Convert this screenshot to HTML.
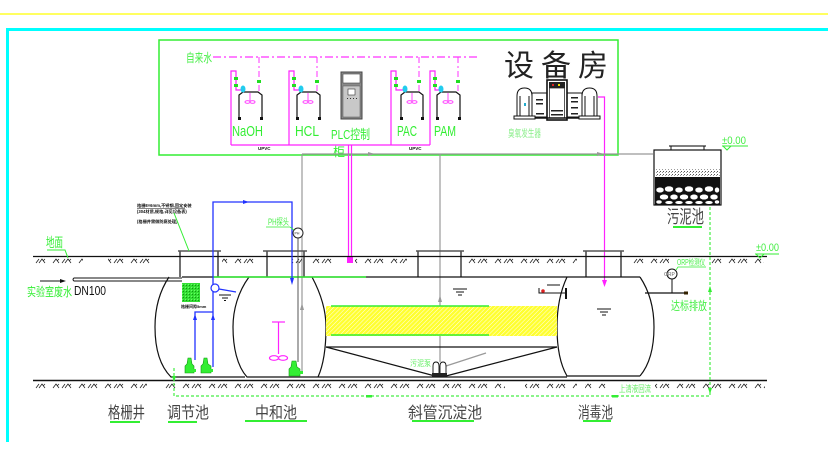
<!DOCTYPE html>
<html><head><meta charset="utf-8">
<style>
html,body{margin:0;padding:0;background:#fff;}
svg{display:block;}
text{font-family:"Liberation Sans","Noto Sans CJK SC",sans-serif;}
</style></head><body>
<svg width="828" height="473" viewBox="0 0 828 473" xmlns="http://www.w3.org/2000/svg">
<defs>
<pattern id="h1" x="0" y="257" width="26" height="8" patternUnits="userSpaceOnUse">
<path d="M1,6 L4,2 L7,6 M5,4 L7,2 M10,6 L13,2 M13,6 L16,2 L19,6 M17,4 L19,2" stroke="#222" stroke-width="0.8" fill="none"/>
</pattern>
<pattern id="h2" x="0" y="382" width="26" height="8" patternUnits="userSpaceOnUse">
<path d="M1,6 L4,2 L7,6 M5,4 L7,2 M10,6 L13,2 M13,6 L16,2 L19,6 M17,4 L19,2" stroke="#222" stroke-width="0.8" fill="none"/>
</pattern>
<pattern id="yh" width="3" height="3" patternUnits="userSpaceOnUse" patternTransform="rotate(45)">
<rect width="3" height="3" fill="#ffff30"/><line x1="0" y1="0" x2="0" y2="3" stroke="#fff" stroke-width="0.9"/>
</pattern>
<pattern id="gh" width="3" height="3" patternUnits="userSpaceOnUse">
<rect width="3" height="3" fill="#33dd33"/><rect x="0" y="0" width="1" height="1" fill="#119911"/><rect x="2" y="2" width="1" height="1" fill="#66ff66"/>
</pattern>
<pattern id="dots" width="3" height="3" patternUnits="userSpaceOnUse">
<rect width="3" height="3" fill="#fff"/><rect x="0" y="0" width="1" height="1" fill="#555"/><rect x="2" y="1" width="1" height="1" fill="#999"/>
</pattern>
</defs>

<!-- frame lines -->
<line x1="0" y1="14" x2="828" y2="14" stroke="#ffff00" stroke-width="1.3"/>
<line x1="6" y1="29.5" x2="828" y2="29.5" stroke="#00ffff" stroke-width="3"/>
<line x1="7.5" y1="29" x2="7.5" y2="442" stroke="#00ffff" stroke-width="3"/>

<!-- equipment room box -->
<rect x="159" y="40" width="459" height="115" fill="none" stroke="#33ee33" stroke-width="1.5"/>

<!-- tap water dash-dot line -->
<text x="186" y="62" font-size="12" fill="#44ee44" textLength="26" lengthAdjust="spacingAndGlyphs">自来水</text>
<line x1="213" y1="57" x2="477" y2="57" stroke="#ff33ff" stroke-width="1.2" stroke-dasharray="8,3,2,3"/>
<g stroke="#ff33ff" stroke-width="1" stroke-dasharray="6,3,2,3" fill="none">
<line x1="259" y1="57" x2="259" y2="118"/>
<line x1="317" y1="57" x2="317" y2="92"/>
<line x1="419" y1="57" x2="419" y2="118"/>
<line x1="458" y1="57" x2="458" y2="92"/>
</g>

<!-- magenta solid dosing lines -->
<g stroke="#ff22ff" stroke-width="1.2" fill="none">
<path d="M231,145 L231,71 L236,71 L236,90 L241,90"/>
<path d="M289,145 L289,71 L294,71 L294,90 L299,90"/>
<path d="M391,145 L391,71 L396,71 L396,90 L403,90"/>
<path d="M430,145 L430,71 L435,71 L435,90 L439,90"/>
<line x1="231" y1="145" x2="430" y2="145"/>
<line x1="348.5" y1="145" x2="348.5" y2="260"/>
<line x1="351.5" y1="145" x2="351.5" y2="260"/>
<path d="M598,97 L604.5,97 L604.5,282"/>
</g>
<rect x="347" y="257" width="6" height="6" fill="#ff22ff"/>
<polygon points="602,280 607,280 604.5,287" fill="#ff22ff"/>

<!-- green valve markers -->
<g fill="#22dd22">
<rect x="234" y="77" width="4" height="3"/><rect x="234" y="84" width="4" height="3"/><rect x="257" y="80" width="4" height="3"/>
<rect x="292" y="77" width="4" height="3"/><rect x="292" y="84" width="4" height="3"/><rect x="315" y="80" width="4" height="3"/>
<rect x="394" y="77" width="4" height="3"/><rect x="394" y="84" width="4" height="3"/><rect x="417" y="80" width="4" height="3"/>
<rect x="433" y="77" width="4" height="3"/><rect x="433" y="84" width="4" height="3"/><rect x="456" y="80" width="4" height="3"/>
</g>

<!-- chemical tanks -->
<g id="tanks" stroke="#111" stroke-width="1.2" fill="#fff">
<path d="M239,119 L239,95 L243,92 L258,92 L262,95 L262,119"/>
<path d="M297,119 L297,95 L301,92 L316,92 L320,95 L320,119"/>
<path d="M401,119 L401,95 L405,92 L419,92 L423,95 L423,119"/>
<path d="M437,119 L437,95 L441,92 L456,92 L460,95 L460,119"/>
</g>
<g fill="#111">
<rect x="238" y="117" width="3" height="3"/><rect x="260" y="117" width="3" height="3"/>
<rect x="296" y="117" width="3" height="3"/><rect x="318" y="117" width="3" height="3"/>
<rect x="400" y="117" width="3" height="3"/><rect x="421" y="117" width="3" height="3"/>
<rect x="436" y="117" width="3" height="3"/><rect x="458" y="117" width="3" height="3"/>
</g>
<g fill="#22ccee">
<ellipse cx="243" cy="89" rx="2.5" ry="3.5"/><ellipse cx="301" cy="89" rx="2.5" ry="3.5"/>
<ellipse cx="405" cy="89" rx="2.5" ry="3.5"/><ellipse cx="441" cy="89" rx="2.5" ry="3.5"/>
</g>
<g stroke="#ff33ff" stroke-width="0.9" fill="none">
<line x1="250" y1="93" x2="250" y2="101"/><ellipse cx="247.5" cy="102" rx="2.5" ry="1.3"/><ellipse cx="252.5" cy="102" rx="2.5" ry="1.3"/>
<line x1="308" y1="93" x2="308" y2="101"/><ellipse cx="305.5" cy="102" rx="2.5" ry="1.3"/><ellipse cx="310.5" cy="102" rx="2.5" ry="1.3"/>
<line x1="412" y1="93" x2="412" y2="101"/><ellipse cx="409.5" cy="102" rx="2.5" ry="1.3"/><ellipse cx="414.5" cy="102" rx="2.5" ry="1.3"/>
<line x1="448" y1="93" x2="448" y2="101"/><ellipse cx="445.5" cy="102" rx="2.5" ry="1.3"/><ellipse cx="450.5" cy="102" rx="2.5" ry="1.3"/>
</g>

<!-- PLC cabinet -->
<rect x="341" y="72" width="21" height="47" fill="#8a8a8a" stroke="#444" stroke-width="1"/>
<rect x="343" y="74" width="17" height="9" fill="#fff" stroke="#444" stroke-width="0.6"/>
<rect x="343" y="86" width="17" height="31" fill="#c8c8c8" stroke="#555" stroke-width="0.5"/>
<rect x="348" y="89" width="7" height="6" fill="#fff" stroke="#333" stroke-width="0.6"/>
<g fill="#333"><rect x="347" y="98" width="1" height="1"/><rect x="350" y="98" width="1" height="1"/><rect x="353" y="98" width="1" height="1"/><rect x="356" y="98" width="1" height="1"/></g>

<!-- chem labels -->
<g fill="#33ee33">
<text x="232" y="136" font-size="15" textLength="31" lengthAdjust="spacingAndGlyphs">NaOH</text>
<text x="295" y="136" font-size="15" textLength="24" lengthAdjust="spacingAndGlyphs">HCL</text>
<text x="331" y="139" font-size="13" textLength="39" lengthAdjust="spacingAndGlyphs">PLC控制</text>
<text x="333" y="156" font-size="12">柜</text>
<text x="397" y="136" font-size="15" textLength="20" lengthAdjust="spacingAndGlyphs">PAC</text>
<text x="434" y="136" font-size="15" textLength="22" lengthAdjust="spacingAndGlyphs">PAM</text>
</g>
<text x="258" y="150" font-size="4.5" font-weight="bold" fill="#111">UPVC</text>
<text x="409" y="150" font-size="4.5" font-weight="bold" fill="#111">UPVC</text>

<!-- 设备房 -->
<g fill="#222" font-size="30">
<text x="504" y="76">设</text>
<text x="541" y="76">备</text>
<text x="578" y="76">房</text>
</g>

<!-- ozone generator -->
<g stroke="#111" stroke-width="1" fill="#fff">
<path d="M517,117 L517,96 Q517,88 524.5,88 Q532,88 532,96 L532,117 Z"/>
<rect x="532" y="93" width="15" height="24"/>
<rect x="567" y="93" width="15" height="24"/>
<path d="M582,117 L582,96 Q582,88 589.5,88 Q597,88 597,96 L597,117 Z"/>
<rect x="547" y="80" width="20" height="40" stroke-width="1.6"/>
<rect x="549.5" y="88" width="15" height="30" stroke-width="0.7"/>
<line x1="520" y1="96" x2="520" y2="116"/><line x1="529" y1="96" x2="529" y2="116"/>
<line x1="585" y1="96" x2="585" y2="116"/><line x1="594" y1="96" x2="594" y2="116"/>
<line x1="514" y1="118" x2="600" y2="118" stroke-width="1.5"/>
<rect x="514" y="116" width="21" height="3"/><rect x="579" y="116" width="21" height="3"/>
</g>
<rect x="549" y="82" width="16" height="6" fill="#222"/>
<rect x="552" y="84" width="2" height="2" fill="#dd2222"/><rect x="558" y="84" width="2" height="2" fill="#eedd00"/>
<rect x="524" y="103" width="2" height="3" fill="#22aacc"/>
<g fill="#222">
<rect x="536" y="99" width="7" height="1.5"/><rect x="536" y="103" width="7" height="1.5"/><rect x="536" y="113" width="8" height="1.5"/>
<rect x="571" y="97" width="7" height="1.5"/><rect x="571" y="101" width="7" height="1.5"/><rect x="571" y="107" width="7" height="1.5"/><rect x="571" y="113" width="7" height="1.5"/>
<rect x="551" y="110" width="12" height="1.5"/><rect x="551" y="114" width="12" height="1.5"/>
</g>
<text x="508" y="137" font-size="10" fill="#88ee88" textLength="33" lengthAdjust="spacingAndGlyphs">臭氧发生器</text>

<!-- grey lines -->
<g stroke="#999" stroke-width="1.2" fill="none">
<line x1="302" y1="154" x2="653" y2="154"/>
<line x1="302" y1="154" x2="302" y2="372"/>
<line x1="440" y1="154" x2="440" y2="362"/>
<line x1="446" y1="366" x2="486" y2="353"/>
</g>
<polygon points="368,152 375,154 368,156" fill="#999"/>
<polygon points="597,152 604,154 597,156" fill="#999"/>
<polygon points="300,310 302,303 304,310" fill="#999"/>
<polygon points="438,302 440,295 442,302" fill="#999"/>

<!-- ground lines and hatches -->
<line x1="33" y1="256.5" x2="767" y2="256.5" stroke="#111" stroke-width="1.3"/>
<line x1="33" y1="380.5" x2="767" y2="380.5" stroke="#111" stroke-width="1.5"/>
<g fill="url(#h1)">
<rect x="35" y="257" width="48" height="8"/><rect x="108" y="257" width="44" height="8"/>
<rect x="222" y="257" width="36" height="8"/><rect x="292" y="257" width="10" height="8"/>
<rect x="309" y="257" width="26" height="8"/><rect x="355" y="257" width="52" height="8"/>
<rect x="467" y="257" width="110" height="8"/><rect x="632" y="257" width="37" height="8"/>
<rect x="710" y="257" width="54" height="8"/>
</g>
<g fill="url(#h2)">
<rect x="35" y="382" width="112" height="8"/><rect x="165" y="382" width="340" height="8"/>
<rect x="525" y="382" width="52" height="8"/><rect x="585" y="382" width="22" height="8"/>
<rect x="655" y="382" width="110" height="8"/>
</g>

<!-- manholes -->
<g stroke="#111" stroke-width="1.2" fill="none">
<line x1="180" y1="251" x2="180" y2="277"/><line x1="218" y1="251" x2="218" y2="277"/>
<line x1="267" y1="251" x2="267" y2="277"/><line x1="304" y1="251" x2="304" y2="277"/>
<line x1="418" y1="251" x2="418" y2="277"/><line x1="461" y1="251" x2="461" y2="277"/>
<line x1="586" y1="251" x2="586" y2="277"/><line x1="621" y1="251" x2="621" y2="277"/>
</g>
<g stroke="#555" stroke-width="1.6">
<line x1="178" y1="251" x2="221" y2="251"/><line x1="263" y1="251" x2="307" y2="251"/>
<line x1="416" y1="251" x2="464" y2="251"/><line x1="583" y1="251" x2="624" y2="251"/>
</g>

<!-- tanks -->
<g stroke="#111" stroke-width="1.2" fill="none">
<path d="M169,277 C159,292 155,310 155,327 C155,348 160,366 171,377 L245,377"/>
<path d="M249,277 C238,292 233,310 233,327 C233,347 237,366 247,377 L318,377"/>
<path d="M312,277 C320,292 326,310 326,327 C326,350 323,366 318,377"/>
<line x1="182" y1="277" x2="640" y2="277"/>
<line x1="326" y1="347" x2="557" y2="347"/>
<line x1="326" y1="347" x2="435" y2="376"/>
<line x1="557" y1="347" x2="446" y2="376"/>
<line x1="318" y1="377" x2="567" y2="377"/>
<path d="M567,277 C560,292 557,310 557,327 C557,346 560,364 567,376 L640,376"/>
<path d="M640,277 C650,292 654,310 654,327 C654,346 650,364 640,376"/>
</g>
<line x1="213" y1="277" x2="366" y2="277" stroke="#33ee33" stroke-width="1.5"/>

<!-- DN100 pipe -->
<path d="M182,278 L74,278 Q72,279.5 74,281 L182,281" stroke="#111" stroke-width="1" fill="none"/>
<line x1="40" y1="281" x2="62" y2="281" stroke="#111" stroke-width="1"/>
<polygon points="60,279 66,281 60,283" fill="#111"/>
<text x="27" y="296" font-size="12" fill="#33ee33" textLength="45" lengthAdjust="spacingAndGlyphs">实验室废水</text>
<text x="74" y="295" font-size="13" fill="#111" textLength="32" lengthAdjust="spacingAndGlyphs">DN100</text>

<!-- 地面 -->
<text x="46" y="247" font-size="13" fill="#33ee33" textLength="17" lengthAdjust="spacingAndGlyphs">地面</text>
<path d="M47,250 L65,250 L68,258" stroke="#33ee33" stroke-width="1" fill="none"/>

<!-- yellow inclined tube zone -->
<rect x="326" y="306" width="231" height="30" fill="url(#yh)"/>
<line x1="331" y1="306" x2="489" y2="306" stroke="#33ee33" stroke-width="1.5"/>
<line x1="331" y1="335" x2="489" y2="335" stroke="#33ee33" stroke-width="1.5"/>

<!-- green grid screen -->
<rect x="182" y="283" width="18" height="19" fill="url(#gh)"/>
<text x="181" y="308" font-size="4" font-weight="bold" fill="#111">格栅间隙5mm</text>

<!-- callout for grid -->
<text x="137" y="207" font-size="4.2" font-weight="bold" fill="#111">格栅8×6mm,不锈钢,固定安装</text>
<text x="137" y="213" font-size="4.2" font-weight="bold" fill="#111">(304材质,规格,详见设备表)</text>
<text x="137" y="223" font-size="4.2" font-weight="bold" fill="#111">(格栅井需做防腐处理)</text>
<line x1="137" y1="208.5" x2="185" y2="208.5" stroke="#111" stroke-width="0.6"/>
<line x1="174" y1="213" x2="189" y2="251" stroke="#33ee33" stroke-width="1"/>

<!-- blue lines -->
<g stroke="#2233ff" stroke-width="1.3" fill="none">
<path d="M213,367 L213,202 L292,202 L292,280"/>
<path d="M195,360 L195,312 L213,312"/>
<line x1="219" y1="289" x2="236" y2="292"/>
</g>
<circle cx="215" cy="288" r="4" fill="#fff" stroke="#2233ff" stroke-width="1.2"/>
<polygon points="243,200 249,202 243,204" fill="#2233ff"/>
<polygon points="290,278 294,278 292,285" fill="#2233ff"/>
<polygon points="193,320 195,314 197,320" fill="#2233ff"/>
<polygon points="211,320 213,314 215,320" fill="#2233ff"/>

<!-- water level symbols -->
<g stroke="#111" stroke-width="1">
<line x1="219" y1="295" x2="231" y2="295"/><line x1="222" y1="298" x2="228" y2="298"/><line x1="224" y1="300.5" x2="226" y2="300.5"/>
<line x1="453" y1="289" x2="467" y2="289"/><line x1="456" y1="292" x2="464" y2="292"/><line x1="458" y1="295" x2="462" y2="295"/>
<line x1="597" y1="309" x2="611" y2="309"/><line x1="600" y1="312" x2="608" y2="312"/><line x1="602" y1="315" x2="606" y2="315"/>
</g>

<!-- PH probe -->
<line x1="298" y1="238" x2="298" y2="362" stroke="#555" stroke-width="1"/>
<circle cx="298" cy="233" r="5" fill="#fff" stroke="#222" stroke-width="1"/>
<text x="294.5" y="234.5" font-size="3.5" fill="#222">PH</text>
<text x="268" y="225" font-size="9" fill="#44ee44" textLength="21" lengthAdjust="spacingAndGlyphs">PH探头</text>
<path d="M266,227 L290,227 L294,230" stroke="#33ee33" stroke-width="0.8" fill="none"/>

<!-- mixer in neutral tank -->
<g stroke="#ff22ff" stroke-width="1.2" fill="none">
<line x1="272" y1="322" x2="285" y2="322"/>
<line x1="278.5" y1="322" x2="278.5" y2="354"/>
<ellipse cx="274" cy="358" rx="4.5" ry="2.3"/><ellipse cx="283" cy="358" rx="4.5" ry="2.3"/>
</g>

<!-- green pumps -->
<g fill="#33ee33" stroke="#119911" stroke-width="0.6">
<path d="M185,373 L185,366 L187,364 L188,358 L191,358 L192,364 L194,366 L194,373 Z"/>
<path d="M201,373 L201,366 L203,364 L204,358 L207,358 L208,364 L211,366 L211,373 Z"/>
<path d="M289,376 L289,369 L291,367 L292,361 L296,361 L297,367 L300,369 L300,376 Z"/>
</g>
<g fill="#33ee33"><rect x="193" y="369" width="3" height="3"/><rect x="210" y="369" width="3" height="3"/><rect x="299" y="371" width="4" height="3"/></g>

<!-- sludge pump in settling tank -->
<g stroke="#111" stroke-width="0.9" fill="#fff">
<path d="M433,374 L433,366 Q433,362 436,362 Q439,362 439,366 L439,374 Z"/>
<path d="M440,374 L440,366 Q440,362 443,362 Q446,362 446,366 L446,374 Z"/>
</g>
<rect x="432" y="373" width="15" height="3.5" fill="#222"/>
<text x="410" y="366" font-size="8" fill="#66ee66" textLength="21" lengthAdjust="spacingAndGlyphs">污泥泵</text>

<!-- disinfection tank dosing marker -->
<path d="M539,288 L539,293 L566,293 M547,285 L560,285" stroke="#111" stroke-width="1" fill="none"/>
<line x1="566" y1="288" x2="566" y2="299" stroke="#111" stroke-width="2"/>
<circle cx="543" cy="291" r="1.8" fill="#dd2222"/>

<!-- ORP -->
<line x1="672" y1="279" x2="672" y2="293" stroke="#111" stroke-width="1"/>
<line x1="645" y1="293" x2="686" y2="293" stroke="#111" stroke-width="1.2"/>
<rect x="684" y="291.5" width="4" height="3" fill="#332200"/>
<circle cx="672" cy="274" r="5" fill="#fff" stroke="#111" stroke-width="1"/>
<text x="664" y="276" font-size="5" fill="#666">ORP</text>
<text x="677" y="265" font-size="8" fill="#44ee44" textLength="28" lengthAdjust="spacingAndGlyphs">ORP检测仪</text>
<path d="M676,270 L678,267 L706,267" stroke="#33ee33" stroke-width="0.8" fill="none"/>
<text x="671" y="310" font-size="12" fill="#44ee44" textLength="36" lengthAdjust="spacingAndGlyphs">达标排放</text>

<!-- sludge tank -->
<rect x="654" y="150" width="67" height="55" fill="#fff" stroke="#111" stroke-width="1.2"/>
<line x1="669" y1="146" x2="706" y2="146" stroke="#555" stroke-width="1.6"/>
<line x1="671" y1="146" x2="671" y2="150" stroke="#111"/><line x1="704" y1="146" x2="704" y2="150" stroke="#111"/>
<rect x="655" y="169" width="65" height="8" fill="url(#dots)"/>
<rect x="655" y="177" width="65" height="9" fill="#111"/>
<rect x="655" y="186" width="65" height="18.5" fill="#111"/>
<g fill="#fff" stroke="#111" stroke-width="0.5">
<ellipse cx="660" cy="190" rx="4" ry="2.8"/><ellipse cx="669" cy="189" rx="4.5" ry="3"/><ellipse cx="679" cy="190" rx="4" ry="2.8"/><ellipse cx="689" cy="189" rx="4.5" ry="3"/><ellipse cx="699" cy="190" rx="4" ry="2.8"/><ellipse cx="709" cy="189" rx="4.5" ry="3"/><ellipse cx="717" cy="190" rx="2.5" ry="2.8"/>
<ellipse cx="664" cy="197" rx="4.5" ry="2.8"/><ellipse cx="674" cy="197" rx="4" ry="2.8"/><ellipse cx="684" cy="197" rx="4.5" ry="2.8"/><ellipse cx="694" cy="197" rx="4" ry="2.8"/><ellipse cx="704" cy="197" rx="4.5" ry="2.8"/><ellipse cx="714" cy="197" rx="4" ry="2.8"/>
<ellipse cx="659" cy="202" rx="3" ry="2"/><ellipse cx="669" cy="202.5" rx="4" ry="1.8"/><ellipse cx="679" cy="202.5" rx="4" ry="1.8"/><ellipse cx="689" cy="202.5" rx="4" ry="1.8"/><ellipse cx="699" cy="202.5" rx="4" ry="1.8"/><ellipse cx="709" cy="202.5" rx="4" ry="1.8"/><ellipse cx="717" cy="202" rx="2.5" ry="2"/>
</g>
<text x="667" y="223" font-size="18" fill="#444" textLength="37" lengthAdjust="spacingAndGlyphs">污泥池</text>
<line x1="673" y1="227" x2="702" y2="227" stroke="#33ee33" stroke-width="2"/>

<!-- elevation marks -->
<g fill="#44ee44" font-size="11">
<text x="722" y="144" textLength="24" lengthAdjust="spacingAndGlyphs">±0.00</text>
<text x="756" y="251" textLength="23" lengthAdjust="spacingAndGlyphs">±0.00</text>
</g>
<g stroke="#33ee33" stroke-width="1" fill="none">
<line x1="722" y1="146" x2="748" y2="146"/><polygon points="723,146 731,146 727,150"/>
<line x1="755" y1="254" x2="779" y2="254"/><polygon points="756,254 764,254 760,258"/>
</g>

<!-- green dashed return line -->
<g stroke="#44ee44" stroke-width="1.2" stroke-dasharray="3,2" fill="none">
<path d="M174,368 L174,396 L710,396 L710,205"/>
</g>
<polygon points="172,376 176,376 174,382" fill="#33ee33"/>
<rect x="366" y="395" width="6" height="2.5" fill="#33ee33"/>
<rect x="612" y="395" width="6" height="2.5" fill="#33ee33"/>
<polygon points="708,292 712,292 710,286" fill="#33ee33"/>
<polygon points="708,388 712,388 710,394" fill="#33ee33"/>
<text x="619" y="392" font-size="9" fill="#66ee66" textLength="32" lengthAdjust="spacingAndGlyphs">上清液回流</text>

<!-- bottom labels -->
<g fill="#444" font-size="16">
<text x="108" y="418" textLength="37" lengthAdjust="spacingAndGlyphs">格栅井</text>
<text x="167" y="418" textLength="42" lengthAdjust="spacingAndGlyphs">调节池</text>
<text x="255" y="418" textLength="42" lengthAdjust="spacingAndGlyphs">中和池</text>
<text x="408" y="418" textLength="74" lengthAdjust="spacingAndGlyphs">斜管沉淀池</text>
<text x="578" y="418" textLength="35" lengthAdjust="spacingAndGlyphs">消毒池</text>
</g>
<g stroke="#33ee33" stroke-width="2">
<line x1="110" y1="422" x2="140" y2="422"/>
<line x1="168" y1="422" x2="197" y2="422"/>
<line x1="245" y1="421" x2="307" y2="421"/>
<line x1="412" y1="421" x2="474" y2="421"/>
<line x1="583" y1="421" x2="611" y2="421"/>
</g>
</svg>
</body></html>
